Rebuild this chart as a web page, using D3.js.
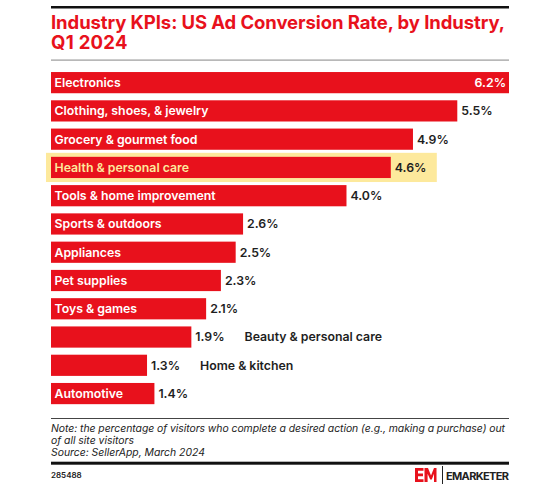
<!DOCTYPE html>
<html>
<head>
<meta charset="utf-8">
<script src="https://cdn.jsdelivr.net/npm/d3@7"></script>
<style>
  body { margin: 0; background: #fff; }
  svg { display: block; font-family: Inter, "Noto Sans", sans-serif; }
</style>
</head>
<body>
<div id="chart"></div>
<script>
// ── Data ─────────────────────────────────────────────────────────────────
const categories = [
  "Electronics",
  "Clothing, shoes, & jewelry",
  "Grocery & gourmet food",
  "Health & personal care",
  "Tools & home improvement",
  "Sports & outdoors",
  "Appliances",
  "Pet supplies",
  "Toys & games",
  "Beauty & personal care",
  "Home & kitchen",
  "Automotive",
];
const values = [6.2, 5.5, 4.9, 4.6, 4.0, 2.6, 2.5, 2.3, 2.1, 1.9, 1.3, 1.4];
const highlighted = ["Health & personal care"];
const outsideLabels = ["Beauty & personal care", "Home & kitchen"];
const insideValues = ["Electronics"];

const titleLines = ["Industry KPIs: US Ad Conversion Rate, by Industry,", "Q1 2024"];
const noteLines = [
  "Note: the percentage of visitors who complete a desired action (e.g., making a purchase) out",
  "of all site visitors",
  "Source: SellerApp, March 2024",
];
const chartId = "285488";

function renderChart(selector) {
  const data = categories.map((c, i) => ({ cat: c, value: values[i] }));

  // ── Container ──────────────────────────────────────────────────────────
  const W = 560, H = 488;
  const left = 51, right = 509;
  const RED = "#e8111c";
  const INK = "#1e1e1e";

  const svg = d3.select(selector)
    .append("svg")
    .attr("width", W)
    .attr("height", H);

  // ── Header ─────────────────────────────────────────────────────────────
  svg.append("rect")
    .attr("x", left).attr("y", 6)
    .attr("width", right - left).attr("height", 2.5)
    .attr("fill", "#111");

  svg.selectAll(".title")
    .data(titleLines)
    .join("text")
    .attr("class", "title")
    .attr("x", left)
    .attr("y", (d, i) => 28.5 + i * 20.5)
    .attr("fill", RED)
    .style("font-size", "18.5px")
    .style("font-weight", 700)
    .each(function (d, i) {
      if (i === 0) {
        d3.select(this).attr("textLength", 454).attr("lengthAdjust", "spacing");
      } else {
        d3.select(this).style("letter-spacing", "0.3px");
      }
    })
    .text((d) => d);

  svg.append("rect")
    .attr("x", left).attr("y", 59.5)
    .attr("width", right - left).attr("height", 1.2)
    .attr("fill", "#9a9a9a");

  // ── Scales ─────────────────────────────────────────────────────────────
  const x = d3.scaleLinear()
    .domain([0, d3.max(values)])
    .range([left, right]);

  const y = d3.scaleBand()
    .domain(categories)
    .range([68.5, 407.7])
    .paddingInner(0.25)
    .paddingOuter(0.125);

  const g = svg.append("g");

  // ── Highlight ──────────────────────────────────────────────────────────
  g.selectAll(".hl")
    .data(data.filter((d) => highlighted.includes(d.cat)))
    .join("rect")
    .attr("class", "hl")
    .attr("x", left - 5)
    .attr("y", (d) => y(d.cat) - 4)
    .attr("width", (d) => x(d.value) - left + 51)
    .attr("height", y.bandwidth() + 8)
    .attr("fill", "#fde99c");

  // ── Bars ───────────────────────────────────────────────────────────────
  g.selectAll(".bar")
    .data(data)
    .join("rect")
    .attr("class", "bar")
    .attr("x", x(0))
    .attr("y", (d) => y(d.cat))
    .attr("width", (d) => x(d.value) - x(0))
    .attr("height", y.bandwidth())
    .attr("fill", RED);

  // ── Category labels inside bars ───────────────────────────────────────
  g.selectAll(".cat")
    .data(data.filter((d) => !outsideLabels.includes(d.cat)))
    .join("text")
    .attr("class", "cat")
    .attr("x", left + 3.5)
    .attr("y", (d) => y(d.cat) + y.bandwidth() / 2)
    .attr("dy", "0.36em")
    .attr("fill", (d) => (highlighted.includes(d.cat) ? "#fde99c" : "#fff"))
    .style("font-size", "12.3px")
    .style("font-weight", 600)
    .text((d) => d.cat);

  // ── Value labels ──────────────────────────────────────────────────────
  const vals = g.selectAll(".val")
    .data(data)
    .join("text")
    .attr("class", "val")
    .attr("x", (d) => (insideValues.includes(d.cat) ? x(d.value) - 3 : x(d.value) + 4))
    .attr("y", (d) => y(d.cat) + y.bandwidth() / 2)
    .attr("dy", "0.36em")
    .attr("text-anchor", (d) => (insideValues.includes(d.cat) ? "end" : "start"))
    .attr("fill", (d) => (insideValues.includes(d.cat) ? "#fff" : INK))
    .style("font-size", "12.3px")
    .style("font-weight", 600)
    .text((d) => d.value.toFixed(1) + "%");

  // ── Category labels outside short bars ───────────────────────────────
  vals.filter((d) => outsideLabels.includes(d.cat)).each(function (d) {
    const end = x(d.value) + 4 + this.getComputedTextLength();
    g.append("text")
      .attr("class", "cat-out")
      .attr("x", end + 20)
      .attr("y", y(d.cat) + y.bandwidth() / 2)
      .attr("dy", "0.36em")
      .attr("fill", INK)
      .style("font-size", "12.3px")
      .style("font-weight", 600)
      .text(d.cat);
  });

  // ── Footer ─────────────────────────────────────────────────────────────
  svg.append("rect")
    .attr("x", left).attr("y", 418)
    .attr("width", right - left).attr("height", 1)
    .attr("fill", "#444");

  svg.selectAll(".note")
    .data(noteLines)
    .join("text")
    .attr("class", "note")
    .attr("x", left)
    .attr("y", (d, i) => 431.5 + i * 12.3)
    .attr("fill", "#222")
    .style("font-size", "10.4px")
    .style("font-style", "italic")
    .each(function (d, i) {
      if (i === 0) d3.select(this).attr("textLength", 454).attr("lengthAdjust", "spacing");
    })
    .text((d) => d);

  svg.append("rect")
    .attr("x", left).attr("y", 461.7)
    .attr("width", right - left).attr("height", 3)
    .attr("fill", "#111");

  svg.append("text")
    .attr("x", left)
    .attr("y", 478)
    .attr("fill", "#222")
    .style("font-size", "8px")
    .style("font-weight", 600)
    .text(chartId);

  // ── Logo ───────────────────────────────────────────────────────────────
  const logo = svg.append("g").attr("transform", "translate(415,468)");
  // "E" mark
  logo.append("path")
    .attr("d", "M0,0H8.5V2.8H3V5.6H8V8.2H3V11.2H8.5V14H0Z")
    .attr("fill", RED);
  // "M" mark
  logo.append("path")
    .attr("d", "M9.5,14V0H13L16,7.5L19,0H21.5V14H19V5.8L16.8,11.5H15.2L12.6,5.8V14Z")
    .attr("fill", RED);
  logo.append("rect")
    .attr("x", 27).attr("y", -2)
    .attr("width", 1).attr("height", 18)
    .attr("fill", "#222");
  logo.append("text")
    .attr("x", 31)
    .attr("y", 12)
    .attr("fill", "#222")
    .attr("textLength", 63)
    .attr("lengthAdjust", "spacing")
    .style("font-size", "11px")
    .style("font-weight", 700)
    .text("EMARKETER");
}

renderChart("#chart");
</script>
</body>
</html>
